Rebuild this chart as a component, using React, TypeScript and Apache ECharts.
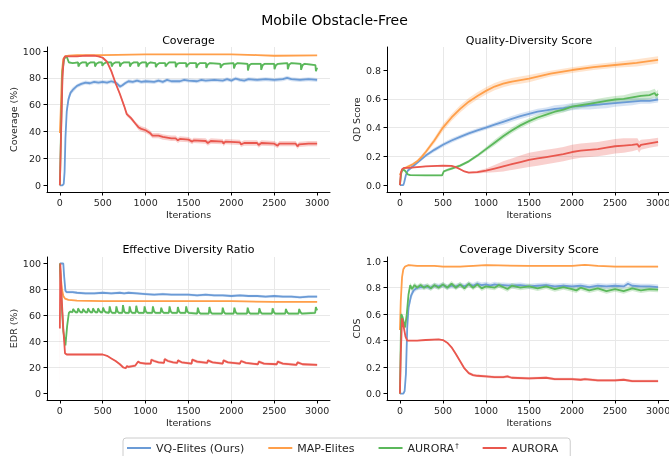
import React, { useEffect, useRef } from 'react';
import * as echarts from 'echarts';

type K = [number, number, number]; // [iteration, mean, half-width of shaded band]

const NAMES = ['VQ-Elites (Ours)', 'MAP-Elites', 'AURORA†', 'AURORA'];
const COLORS = ['#6b9bd6', '#ff9f4a', '#5bb85b', '#e9574e'];
const TITLES = ['Coverage', 'Quality-Diversity Score', 'Effective Diversity Ratio', 'Coverage Diversity Score'];
const Y_NAMES = ['Coverage (%)', 'QD Score', 'EDR (%)', 'CDS'];
const X_TICKS = [0, 500, 1000, 1500, 2000, 2500, 3000];
const Y_TICKS = [
  [0, 20, 40, 60, 80, 100],
  [0, 0.2, 0.4, 0.6, 0.8],
  [0, 20, 40, 60, 80, 100],
  [0, 0.2, 0.4, 0.6, 0.8, 1.0],
];
const Y_RANGE = [[-5, 103], [-0.048, 0.96], [-5, 105], [-0.048, 1.032]];
const X_RANGE = [-150, 3150];

// ---------------- Coverage ----------------
const covBlue: K[] = [[0,0,0],[30,0,0],[45,1,0.5],[55,10,3],[65,35,5],[80,55,4],[100,64,3],[125,69,2],[150,71,2],[200,74,1.5],[250,75.5,1.5],[300,76.5,1.5],[350,76,1.5],[400,77,1.5],[450,76.5,1.5],[500,77,1.5],[550,76.5,1.5],[600,77.5,1.5],[650,76.5,1.5],[680,75,1.5],[700,73.5,1.5],[730,74.5,1.5],[760,76,1.5],[800,77.5,1.5],[850,77,1.5],[900,78,1.5],[950,77,1.5],[1000,77.5,1.5],[1100,77,1.5],[1150,78,1.5],[1200,77,1.5],[1250,78.5,1.5],[1300,77.5,1.5],[1400,77.5,1.5],[1450,78.5,1.5],[1500,78,1.5],[1600,77.5,1.5],[1650,78.5,1.5],[1700,78,1.5],[1800,78.5,1.5],[1900,78,1.5],[1950,79,1.5],[2000,78,1.5],[2050,79.5,1.5],[2100,78.5,1.5],[2150,78,1.5],[2200,79,1.5],[2300,78.5,1.5],[2400,79,1.5],[2500,78.5,1.5],[2600,79,1.5],[2650,80,1.5],[2700,79,1.5],[2800,78.5,1.5],[2900,79,1.5],[3000,78.5,1.5]];
const covOrange: K[] = [[0,39,1],[10,55,3],[25,85,3],[40,94,1],[60,96,0.5],[100,96.5,0.5],[200,97,0.3],[500,97,0.3],[1000,97.5,0.3],[1500,97.5,0.3],[2000,97.5,0.3],[2300,97,0.3],[2500,96.5,0.3],[3000,96.8,0.3]];
const covGreen: K[] = [[0,0,0],[15,45,5],[30,85,3],[50,94,1],[70,96,1],[85,95,1],[105,91.5,1],[150,91,0.7],[212,91.5,0.7],[216,88.5,0.8],[233,90.5,0.7],[258,91.5,0.7],[309,91.5,0.7],[313,88.5,0.8],[330,90.5,0.7],[355,91.5,0.7],[406,91.5,0.7],[410,88.5,0.8],[427,90.5,0.7],[452,91.5,0.7],[491,91.5,0.7],[495,89,0.8],[512,90.5,0.7],[537,91.5,0.7],[600,91.5,0.7],[604,88.5,0.8],[621,90.5,0.7],[646,91.5,0.7],[697,91.5,0.7],[701,88.5,0.8],[718,90.5,0.7],[743,91.5,0.7],[813,91.5,0.7],[817,88.5,0.8],[834,90.5,0.7],[859,91.5,0.7],[910,91.5,0.7],[914,88.5,0.8],[931,90.5,0.7],[956,91.5,0.7],[1007,91.5,0.7],[1011,88,0.8],[1028,90.5,0.7],[1053,91.5,0.7],[1115,91,0.7],[1119,88,0.8],[1136,90,0.7],[1161,91,0.7],[1228,91,0.7],[1232,88.5,0.8],[1249,90,0.7],[1274,91.5,0.7],[1348,91.5,0.7],[1352,88,0.8],[1369,90.5,0.7],[1394,91,0.7],[1472,91,0.7],[1476,88,0.8],[1493,90,0.7],[1518,91,0.7],[1589,91,0.7],[1593,87.5,0.8],[1610,90,0.7],[1635,91,0.7],[1704,91,0.7],[1708,87.5,0.8],[1725,90,0.7],[1750,91,0.7],[1871,90.5,0.7],[1875,87.5,0.8],[1892,89.5,0.7],[1917,90.5,0.7],[2026,91,0.7],[2030,87,0.8],[2047,90,0.7],[2072,91,0.7],[2189,90.5,0.7],[2193,85.5,0.8],[2210,89.5,0.7],[2235,90.5,0.7],[2344,90.5,0.7],[2348,86,0.8],[2365,89.5,0.7],[2390,90.5,0.7],[2499,90.5,0.7],[2503,86.5,0.8],[2520,89.5,0.7],[2545,90.5,0.7],[2654,91,0.7],[2658,86.5,0.8],[2675,90,0.7],[2700,91,0.7],[2809,90.5,0.7],[2813,86,0.8],[2830,89.5,0.7],[2855,90.5,0.7],[2980,89.5,0.7],[2986,85,0.8],[3000,87.5,0.8]];
const covRed: K[] = [[0,0,0],[15,40,5],[30,80,3],[45,94,1],[60,96,0.5],[100,96,0.5],[200,96,0.5],[300,96.5,0.5],[400,96.5,0.5],[450,96,0.5],[500,95,0.7],[550,92,1],[600,85,1.5],[650,76,1.5],[700,68,1.5],[750,59,1.5],[780,53,1.5],[830,50,1.5],[880,46,1.5],[920,43,2],[950,42,2],[1000,41,2],[1050,39,2],[1080,37,2],[1150,37,2],[1200,36,2],[1250,35.5,2],[1300,35,2],[1350,35,2],[1376,33.5,2],[1400,34.5,2],[1500,34,2],[1543,32.5,2],[1560,33.5,2],[1700,33,2],[1725,31.5,2],[1760,33,2],[1900,32.5,2],[1907,31,2],[1930,32.5,2],[2100,32,2],[2112,30.5,2],[2150,31.5,2],[2300,31.5,2],[2318,30,2],[2350,31.5,2],[2500,31,2],[2539,29.5,2],[2560,31,2],[2750,31,2],[2771,29,2],[2790,30.5,2],[2900,31,2],[3000,31,2]];

// ---------------- QD score ----------------
const qdBlue: K[] = [[0,0,0],[40,0,0],[50,0.02,0.01],[70,0.07,0.01],[90,0.1,0.01],[120,0.115,0.01],[200,0.155,0.01],[300,0.205,0.012],[400,0.245,0.015],[500,0.28,0.015],[600,0.31,0.015],[700,0.335,0.015],[800,0.36,0.015],[900,0.38,0.015],[1000,0.4,0.015],[1100,0.42,0.015],[1200,0.44,0.02],[1300,0.46,0.02],[1400,0.48,0.02],[1500,0.495,0.02],[1600,0.51,0.02],[1700,0.52,0.02],[1800,0.53,0.025],[1900,0.535,0.025],[2000,0.545,0.025],[2100,0.55,0.025],[2200,0.555,0.03],[2300,0.56,0.03],[2400,0.565,0.03],[2500,0.57,0.025],[2600,0.575,0.025],[2700,0.58,0.025],[2800,0.585,0.02],[2900,0.585,0.02],[3000,0.595,0.02]];
const qdOrange: K[] = [[0,0.07,0.005],[20,0.1,0.01],[50,0.115,0.01],[100,0.13,0.01],[150,0.145,0.01],[200,0.165,0.01],[250,0.195,0.015],[300,0.23,0.015],[400,0.31,0.02],[500,0.4,0.025],[600,0.47,0.025],[700,0.53,0.025],[800,0.58,0.025],[900,0.62,0.025],[1000,0.655,0.025],[1100,0.685,0.025],[1200,0.705,0.025],[1300,0.72,0.025],[1400,0.73,0.025],[1500,0.74,0.025],[1750,0.775,0.02],[2000,0.8,0.02],[2250,0.82,0.02],[2500,0.835,0.02],[2750,0.85,0.025],[3000,0.87,0.025]];
const qdGreen: K[] = [[0,0,0],[15,0.08,0.01],[30,0.11,0.01],[60,0.1,0.01],[90,0.075,0.005],[120,0.07,0.005],[300,0.068,0.005],[490,0.068,0.005],[510,0.095,0.005],[550,0.105,0.01],[600,0.115,0.01],[700,0.135,0.01],[800,0.165,0.01],[900,0.205,0.012],[1000,0.25,0.015],[1100,0.295,0.02],[1200,0.34,0.02],[1300,0.38,0.02],[1400,0.415,0.02],[1500,0.445,0.02],[1600,0.47,0.02],[1700,0.49,0.02],[1800,0.51,0.02],[1900,0.525,0.02],[2000,0.545,0.02],[2100,0.555,0.02],[2200,0.565,0.02],[2300,0.575,0.025],[2400,0.585,0.025],[2500,0.595,0.025],[2600,0.6,0.025],[2700,0.61,0.03],[2800,0.62,0.03],[2900,0.625,0.03],[2960,0.64,0.03],[2980,0.62,0.03],[3000,0.635,0.03]];
const qdRed: K[] = [[0,0,0],[10,0.08,0.01],[25,0.11,0.005],[50,0.12,0.005],[100,0.12,0.005],[300,0.13,0.005],[500,0.135,0.005],[600,0.133,0.005],[650,0.125,0.005],[700,0.11,0.005],[750,0.095,0.005],[800,0.087,0.005],[900,0.09,0.01],[1000,0.1,0.015],[1100,0.115,0.025],[1200,0.13,0.035],[1300,0.145,0.04],[1400,0.16,0.045],[1500,0.175,0.05],[1600,0.185,0.05],[1700,0.195,0.05],[1800,0.205,0.05],[1900,0.215,0.05],[2000,0.23,0.05],[2100,0.24,0.05],[2200,0.245,0.05],[2300,0.25,0.05],[2400,0.26,0.05],[2500,0.27,0.05],[2600,0.275,0.05],[2700,0.28,0.045],[2760,0.285,0.04],[2780,0.265,0.04],[2800,0.28,0.035],[2900,0.29,0.03],[3000,0.3,0.03]];

// ---------------- EDR ----------------
const edrBlue: K[] = [[0,100,0],[40,100,0],[50,90,2],[65,79,1.5],[80,78,1],[150,78,1],[200,77.5,1],[300,77,1],[400,77,1],[500,77.5,1],[600,77,1],[700,77.5,1],[750,77,1],[800,77.5,1],[900,77,1],[1000,76.5,1],[1100,76,1],[1200,76.5,1],[1300,76,1],[1400,76,1],[1500,76,1],[1600,75.5,1],[1700,76,1],[1800,75.5,1],[1900,75.5,1],[2000,75,1],[2100,75.5,1],[2200,75,1],[2300,75,1],[2400,74.5,1],[2500,75,1],[2600,74.5,1],[2700,74.5,1],[2800,74,1],[2900,74.5,1],[3000,74.5,1]];
const edrOrange: K[] = [[0,100,0],[10,90,3],[25,80,2],[40,75,1],[60,73,0.5],[100,72,0.5],[200,71.5,0.5],[500,71,0.5],[800,71,0.5],[1000,71,0.5],[1500,71,0.5],[2000,71,0.5],[2500,70.5,0.5],[3000,70.5,0.5]];
const edrGreen: K[] = [[0,100,0],[20,70,4],[40,48,3],[65,37,2],[85,52,2],[105,62,1.5],[120,63,1],[147,62.5,1],[155,65,1],[170,63.5,1],[185,62.5,1],[205,62.5,1],[213,65.5,1],[228,63.5,1],[243,62.5,1],[263,62.5,1],[271,65,1],[286,63.5,1],[301,62.5,1],[321,62.5,1],[329,65.5,1],[344,63.5,1],[359,62.5,1],[379,62.5,1],[387,65.5,1],[402,63.5,1],[417,62.5,1],[438,62.5,1],[446,65.5,1],[461,63.5,1],[476,62.5,1],[496,62.5,1],[504,66,1],[519,63.5,1],[534,62.5,1],[573,62,1],[581,67,1],[596,63,1],[611,62,1],[651,62,1],[659,67,1],[674,63,1],[689,62,1],[728,62,1],[736,68,1],[751,63,1],[766,62,1],[806,62,1],[814,67,1],[829,63,1],[844,62,1],[883,62,1],[891,67.5,1],[906,63,1],[921,62,1],[980,62,1],[988,67,1],[1003,63,1],[1018,62,1],[1077,62,1],[1085,67,1],[1100,63,1],[1115,62,1],[1174,62,1],[1182,66,1],[1197,63,1],[1212,62,1],[1271,62,1],[1279,67,1],[1294,63,1],[1309,62,1],[1368,62,1],[1376,66.5,1],[1391,63,1],[1406,62,1],[1465,62,1],[1473,67,1],[1488,63,1],[1503,62,1],[1601,61.5,1],[1609,66,1],[1624,62.5,1],[1639,61.5,1],[1736,61.5,1],[1744,66.5,1],[1759,62.5,1],[1774,61.5,1],[1891,61.5,1],[1899,66,1],[1914,62.5,1],[1929,61.5,1],[2027,61.5,1],[2035,66,1],[2050,62.5,1],[2065,61.5,1],[2182,61.5,1],[2190,66,1],[2205,62.5,1],[2220,61.5,1],[2318,61.5,1],[2326,65.5,1],[2341,62.5,1],[2356,61.5,1],[2473,61.5,1],[2481,65.5,1],[2496,62.5,1],[2511,61.5,1],[2628,61.5,1],[2636,65,1],[2651,62.5,1],[2666,61.5,1],[2783,61.5,1],[2791,65,1],[2806,62.5,1],[2821,61.5,1],[2977,62,1],[2985,66.5,1],[3000,64,1]];
const edrRed: K[] = [[0,50,50],[5,100,0],[20,75,3],[40,50,2],[60,31,1],[80,30,0.5],[200,30,0.5],[400,30,0.5],[500,30,0.5],[550,29,0.5],[600,27,0.5],[650,25,0.7],[700,22.5,0.7],[740,20,0.8],[770,19.5,0.8],[780,21,1],[800,20.5,1],[880,21.5,1],[911,24.5,1],[940,23.5,1],[1000,23,1],[1060,23,1],[1066,26,1.2],[1100,25,1.2],[1150,24,1],[1215,23.5,1],[1221,26.5,1.2],[1260,25,1.2],[1320,24,1],[1370,23.5,1],[1376,25.5,1.2],[1420,24,1],[1537,23,1],[1543,26,1.2],[1600,24.5,1.2],[1720,23.5,1],[1725,25.5,1.2],[1780,24,1],[1900,23,1],[1907,25.5,1.2],[1960,24,1],[2100,23,1],[2112,25,1.2],[2170,23.5,1],[2310,22.5,1],[2318,24.5,1.2],[2380,23,1],[2530,22.5,1],[2539,24.5,1.2],[2600,23,1],[2760,22,1],[2771,24,1.2],[2830,22.5,1],[3000,22,1]];

// ---------------- CDS ----------------
const cdsBlue: K[] = [[0,0,0],[40,0,0],[55,0.02,0.01],[70,0.15,0.05],[85,0.5,0.05],[100,0.65,0.04],[130,0.74,0.03],[160,0.78,0.02],[200,0.8,0.02],[250,0.805,0.02],[300,0.81,0.02],[350,0.8,0.02],[400,0.815,0.02],[450,0.81,0.02],[500,0.82,0.02],[550,0.805,0.02],[600,0.815,0.02],[650,0.81,0.02],[700,0.82,0.02],[750,0.81,0.02],[800,0.825,0.02],[850,0.815,0.02],[900,0.83,0.02],[950,0.82,0.02],[1000,0.825,0.02],[1050,0.815,0.02],[1100,0.825,0.02],[1150,0.82,0.02],[1200,0.82,0.02],[1300,0.815,0.02],[1400,0.82,0.02],[1500,0.81,0.02],[1600,0.815,0.02],[1700,0.82,0.02],[1800,0.81,0.02],[1900,0.815,0.02],[2000,0.81,0.02],[2100,0.815,0.02],[2200,0.805,0.02],[2300,0.815,0.02],[2400,0.81,0.02],[2500,0.815,0.02],[2600,0.81,0.02],[2650,0.83,0.02],[2700,0.815,0.02],[2800,0.81,0.02],[2900,0.81,0.02],[3000,0.805,0.02]];
const cdsOrange: K[] = [[0,0.48,0.01],[10,0.7,0.03],[25,0.88,0.02],[40,0.94,0.01],[60,0.96,0.005],[100,0.97,0.005],[200,0.965,0.005],[400,0.965,0.005],[500,0.96,0.005],[700,0.96,0.005],[1000,0.97,0.005],[1500,0.965,0.005],[2000,0.965,0.005],[2150,0.972,0.005],[2300,0.965,0.005],[2500,0.96,0.005],[3000,0.96,0.005]];
const cdsGreen: K[] = [[0,0,0],[15,0.6,0.02],[30,0.58,0.02],[60,0.5,0.02],[80,0.6,0.03],[100,0.75,0.03],[120,0.82,0.02],[140,0.79,0.02],[170,0.82,0.02],[200,0.8,0.02],[240,0.82,0.02],[280,0.8,0.02],[320,0.815,0.02],[360,0.795,0.02],[400,0.82,0.02],[450,0.8,0.02],[500,0.825,0.02],[550,0.8,0.02],[600,0.83,0.02],[650,0.8,0.02],[700,0.825,0.02],[750,0.795,0.02],[800,0.83,0.02],[850,0.8,0.02],[900,0.825,0.02],[950,0.795,0.02],[1000,0.81,0.02],[1100,0.8,0.02],[1150,0.82,0.02],[1250,0.79,0.02],[1300,0.815,0.02],[1400,0.8,0.02],[1500,0.81,0.02],[1600,0.795,0.02],[1700,0.81,0.02],[1800,0.79,0.02],[1900,0.805,0.02],[2000,0.79,0.02],[2050,0.78,0.02],[2100,0.8,0.02],[2200,0.78,0.02],[2300,0.795,0.02],[2400,0.775,0.02],[2500,0.79,0.02],[2600,0.775,0.02],[2700,0.795,0.02],[2800,0.78,0.02],[2900,0.79,0.02],[3000,0.785,0.02]];
const cdsRed: K[] = [[0,0,0],[10,0.3,0.05],[25,0.57,0.02],[45,0.5,0.02],[65,0.43,0.01],[85,0.4,0.005],[200,0.4,0.005],[300,0.405,0.005],[450,0.41,0.005],[500,0.405,0.005],[550,0.385,0.005],[600,0.35,0.008],[650,0.3,0.01],[700,0.245,0.01],[750,0.19,0.01],[800,0.155,0.01],[850,0.14,0.01],[900,0.135,0.01],[1000,0.13,0.01],[1100,0.125,0.01],[1200,0.125,0.01],[1250,0.13,0.01],[1300,0.12,0.01],[1500,0.115,0.01],[1700,0.12,0.01],[1800,0.11,0.01],[2000,0.11,0.01],[2100,0.105,0.01],[2150,0.11,0.01],[2300,0.1,0.01],[2500,0.1,0.01],[2600,0.105,0.01],[2700,0.095,0.01],[3000,0.095,0.01]];

const PANELS: K[][][] = [
  [covBlue, covOrange, covGreen, covRed],
  [qdBlue, qdOrange, qdGreen, qdRed],
  [edrBlue, edrOrange, edrGreen, edrRed],
  [cdsBlue, cdsOrange, cdsGreen, cdsRed],
];

const FONT = 'DejaVu Sans';
const GRIDS = [
  { left: 47, top: 47, width: 283, height: 145 },
  { left: 387, top: 47, width: 284, height: 145 },
  { left: 47, top: 257, width: 283, height: 143 },
  { left: 387, top: 257, width: 284, height: 143 },
];

function hexA(hex: string, a: number) {
  const n = parseInt(hex.slice(1), 16);
  return `rgba(${(n >> 16) & 255},${(n >> 8) & 255},${n & 255},${a})`;
}

export default function App() {
  const ref = useRef<HTMLDivElement>(null);
  useEffect(() => {
    if (!ref.current) return;
    const chart = echarts.init(ref.current, null, { renderer: 'svg' });
    const series: any[] = [];
    const lines: any[] = [];
    PANELS.forEach((panel, gi) => {
      panel.forEach((pts, k) => {
        const color = COLORS[k];
        series.push({
          type: 'custom',
          xAxisIndex: gi,
          yAxisIndex: gi,
          silent: true,
          z: 1,
          data: pts.map((p) => [p[0], p[1] - p[2], p[1] + p[2]]),
          encode: { x: 0, y: [1, 2] },
          renderItem: (params: any, api: any) => {
            if (params.dataIndexInside !== 0) return null;
            const n = params.dataInsideLength;
            const up: number[][] = [];
            const lo: number[][] = [];
            for (let j = 0; j < n; j++) {
              up.push(api.coord([api.value(0, j), api.value(2, j)]));
              lo.push(api.coord([api.value(0, j), api.value(1, j)]));
            }
            return {
              type: 'polygon',
              shape: { points: up.concat(lo.reverse()) },
              style: { fill: hexA(color, 0.28), stroke: null },
            };
          },
        });
        lines.push({
          type: 'line',
          name: NAMES[k],
          xAxisIndex: gi,
          yAxisIndex: gi,
          data: pts.map((p) => [p[0], p[1]]),
          showSymbol: false,
          symbol: 'none',
          silent: true,
          z: 3,
          lineStyle: { width: 1.8, color },
          itemStyle: { color },
        });
      });
    });

    const axisText = { fontFamily: FONT, fontSize: 9.5, color: '#262626' };
    const option: any = {
      animation: false,
      textStyle: { fontFamily: FONT },
      grid: GRIDS.map((g) => ({ ...g, containLabel: false, outerBoundsMode: 'none' })),
      xAxis: GRIDS.map((_, i) => ({
        type: 'value',
        gridIndex: i,
        min: X_RANGE[0],
        max: X_RANGE[1],
        name: 'Iterations',
        nameLocation: 'middle',
        nameGap: 17,
        nameTextStyle: axisText,
        axisLine: { show: true, onZero: false, lineStyle: { color: '#000', width: 1 } },
        axisTick: { show: true, length: 3.5, customValues: X_TICKS, lineStyle: { color: '#000', width: 1 } },
        axisLabel: { ...axisText, margin: 5, customValues: X_TICKS, formatter: (v: number) => String(v) },
        splitLine: { show: true, showMinLine: false, showMaxLine: false, lineStyle: { color: '#e8e8e8', width: 1 } },
      })),
      yAxis: GRIDS.map((_, i) => ({
        type: 'value',
        gridIndex: i,
        min: Y_RANGE[i][0],
        max: Y_RANGE[i][1],
        name: Y_NAMES[i],
        nameLocation: 'middle',
        nameGap: i % 2 === 0 ? 27 : 26,
        nameTextStyle: axisText,
        axisLine: { show: true, onZero: false, lineStyle: { color: '#000', width: 1 } },
        axisTick: { show: true, length: 3.5, customValues: Y_TICKS[i], lineStyle: { color: '#000', width: 1 } },
        axisLabel: {
          ...axisText,
          margin: 6,
          customValues: Y_TICKS[i],
          formatter: (v: number) => (i % 2 === 1 ? v.toFixed(1) : String(Math.round(v))),
        },
        splitLine: { show: true, showMinLine: false, showMaxLine: false, lineStyle: { color: '#e8e8e8', width: 1 } },
      })),
      legend: {
        data: NAMES,
        left: 123,
        top: 438,
        icon: 'rect',
        itemWidth: 24,
        itemHeight: 2,
        itemGap: 24,
        padding: [4, 12, 20, 4],
        borderColor: '#cccccc',
        borderWidth: 1,
        borderRadius: 3,
        backgroundColor: '#fff',
        selectedMode: false,
        formatter: (name: string) => (name === 'AURORA†' ? '{n|AURORA}{s|†}' : name),
        textStyle: {
          fontFamily: FONT,
          fontSize: 11,
          color: '#262626',
          rich: {
            n: { fontFamily: FONT, fontSize: 11, color: '#262626' },
            s: { fontFamily: FONT, fontSize: 7, color: '#262626', verticalAlign: 'top', padding: [0, 0, 5, 1] },
          },
        },
      },
      graphic: [
        { type: 'text', x: 334.5, y: 20, style: { text: 'Mobile Obstacle-Free', font: `14px "${FONT}"`, fill: '#000', textAlign: 'center', textVerticalAlign: 'middle' } },
        ...TITLES.map((t, i) => ({
          type: 'text',
          x: GRIDS[i].left + GRIDS[i].width / 2,
          y: i < 2 ? 40 : 249,
          style: { text: t, font: `11px "${FONT}"`, fill: '#000', textAlign: 'center', textVerticalAlign: 'middle' },
        })),
      ],
      series: [...series, ...lines],
    };
    chart.setOption(option);
    return () => chart.dispose();
  }, []);
  return <div ref={ref} style={{ position: 'fixed', left: 0, top: 0, width: 669, height: 456 }} />;
}
